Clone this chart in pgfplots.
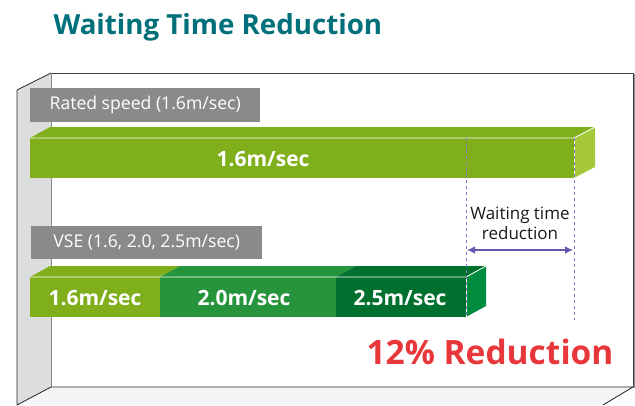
\documentclass[border=0pt]{standalone}
\usepackage{fontspec}
\setmainfont{Open Sans}
\usepackage{pgfplots}
\pgfplotsset{compat=1.18}
\usetikzlibrary{arrows.meta}

\definecolor{titleteal}{HTML}{00707A}
\definecolor{wallside}{HTML}{DCDDDD}
\definecolor{floorc}{HTML}{F4F6F6}
\definecolor{labelgray}{HTML}{8A8A8A}
\definecolor{lgfront}{HTML}{80AF1C}
\definecolor{lgside}{HTML}{A5C93A}
\definecolor{mgfront}{HTML}{25943A}
\definecolor{dgfront}{HTML}{00702F}
\definecolor{dgside}{HTML}{008C3E}
\definecolor{dashc}{HTML}{8676CC}
\definecolor{arrowc}{HTML}{6A55B0}
\definecolor{redc}{HTML}{E8373A}

\begin{document}
\begin{tikzpicture}
\begin{axis}[
  scale only axis, width=635pt, height=405pt,
  xmin=0, xmax=635, ymin=0, ymax=405, y dir=reverse,
  hide axis, clip=false,
]
% full frame, so the page is the whole 635x405 area
\addplot[draw=none] coordinates {(0,0) (635,405)};
% room: side wall, floor, back wall
\addplot[fill=floorc, draw=none] coordinates {(51,387) (633,387) (603,405) (17,405)} --cycle;
\addplot[fill=wallside, draw=none] coordinates {(17,90) (51,73) (51,387) (17,405)} --cycle;
\addplot[draw=black!45, line width=2pt] coordinates {(634,74) (634,388)};
\addplot[draw=black!75, line width=0.8pt] coordinates {(51,73) (633,73) (633,387)};
\addplot[draw=black!45, line width=1pt] coordinates {(51,73) (51,387)};
\addplot[draw=black!85, line width=0.8pt] coordinates {(17,405) (17,90) (51,73)};
\addplot[draw=black!85, line width=0.8pt] coordinates {(17,405) (51,387) (633,387) (603,405)};

% rated speed bar (1.6 m/sec)
\addplot[fill=lgfront, draw=none] coordinates {(30,138) (50,127) (595,127) (574,138)} --cycle;
\addplot[fill=lgside, draw=none] coordinates {(574,138) (595,127) (595,167) (574,178)} --cycle;
\addplot[fill=lgfront, draw=none] coordinates {(30,138) (574,138) (574,178) (30,178)} --cycle;
\addplot[draw=white, line width=0.8pt] coordinates {(30,138) (574,138) (595,127)};
\addplot[draw=white, line width=0.6pt] coordinates {(574,138) (574,178)};

% VSE bar (1.6 / 2.0 / 2.5 m/sec)
\addplot[fill=lgfront, draw=none] coordinates {(30,277) (50,266) (180,266) (160,277)} --cycle;
\addplot[fill=mgfront, draw=none] coordinates {(160,277) (180,266) (356,266) (336,277)} --cycle;
\addplot[fill=dgfront, draw=none] coordinates {(336,277) (356,266) (486,266) (466,277)} --cycle;
\addplot[fill=dgside, draw=none] coordinates {(466,277) (486,266) (486,306) (466,317)} --cycle;
\addplot[fill=lgfront, draw=none] coordinates {(30,277) (160,277) (160,317) (30,317)} --cycle;
\addplot[fill=mgfront, draw=none] coordinates {(160,277) (336,277) (336,317) (160,317)} --cycle;
\addplot[fill=dgfront, draw=none] coordinates {(336,277) (466,277) (466,317) (336,317)} --cycle;
\addplot[draw=white, line width=0.8pt] coordinates {(30,277) (466,277) (486,266)};
\addplot[draw=white, line width=0.6pt] coordinates {(466,277) (466,317)};

% dashed guides and arrow
\addplot[draw=dashc, dashed, line width=0.8pt] coordinates {(466,138) (466,317)};
\addplot[draw=dashc, dashed, line width=0.8pt] coordinates {(574,138) (574,320)};
\addplot[draw=arrowc, line width=1.6pt, {Latex[length=8pt,width=8pt]}-{Latex[length=8pt,width=8pt]}] coordinates {(467,250) (573,250)};

% labels
\node[fill=labelgray, text=white, anchor=north west, minimum width=230pt, minimum height=34pt, inner sep=0pt,
  font=\fontsize{17.6}{20}\selectfont] at (axis cs:30,88) {Rated speed (1.6m/sec)};
\node[fill=labelgray, text=white, anchor=north west, minimum width=231pt, minimum height=33pt, inner sep=0pt,
  font=\fontsize{17.6}{20}\selectfont] at (axis cs:31,226) {VSE (1.6, 2.0, 2.5m/sec)};

\node[text=white, font=\bfseries\fontsize{21}{23}\selectfont] at (axis cs:263,159) {1.6m/sec};
\node[text=white, font=\bfseries\fontsize{21}{23}\selectfont] at (axis cs:95,298) {1.6m/sec};
\node[text=white, font=\bfseries\fontsize{21}{23}\selectfont] at (axis cs:244,298) {2.0m/sec};
\node[text=white, font=\bfseries\fontsize{21}{23}\selectfont] at (axis cs:400,298) {2.5m/sec};

\node[text=black!90, align=center, font=\fontsize{17}{20}\selectfont] at (axis cs:520,223) {Waiting time\\reduction};

\node[text=redc, font=\bfseries\fontsize{33.5}{36}\selectfont] at (axis cs:490,352) {12\% Reduction};
\node[text=titleteal, anchor=west, font=\bfseries\fontsize{27.7}{30}\selectfont] at (axis cs:50,27) {Waiting Time Reduction};
\end{axis}
\end{tikzpicture}
\end{document}
